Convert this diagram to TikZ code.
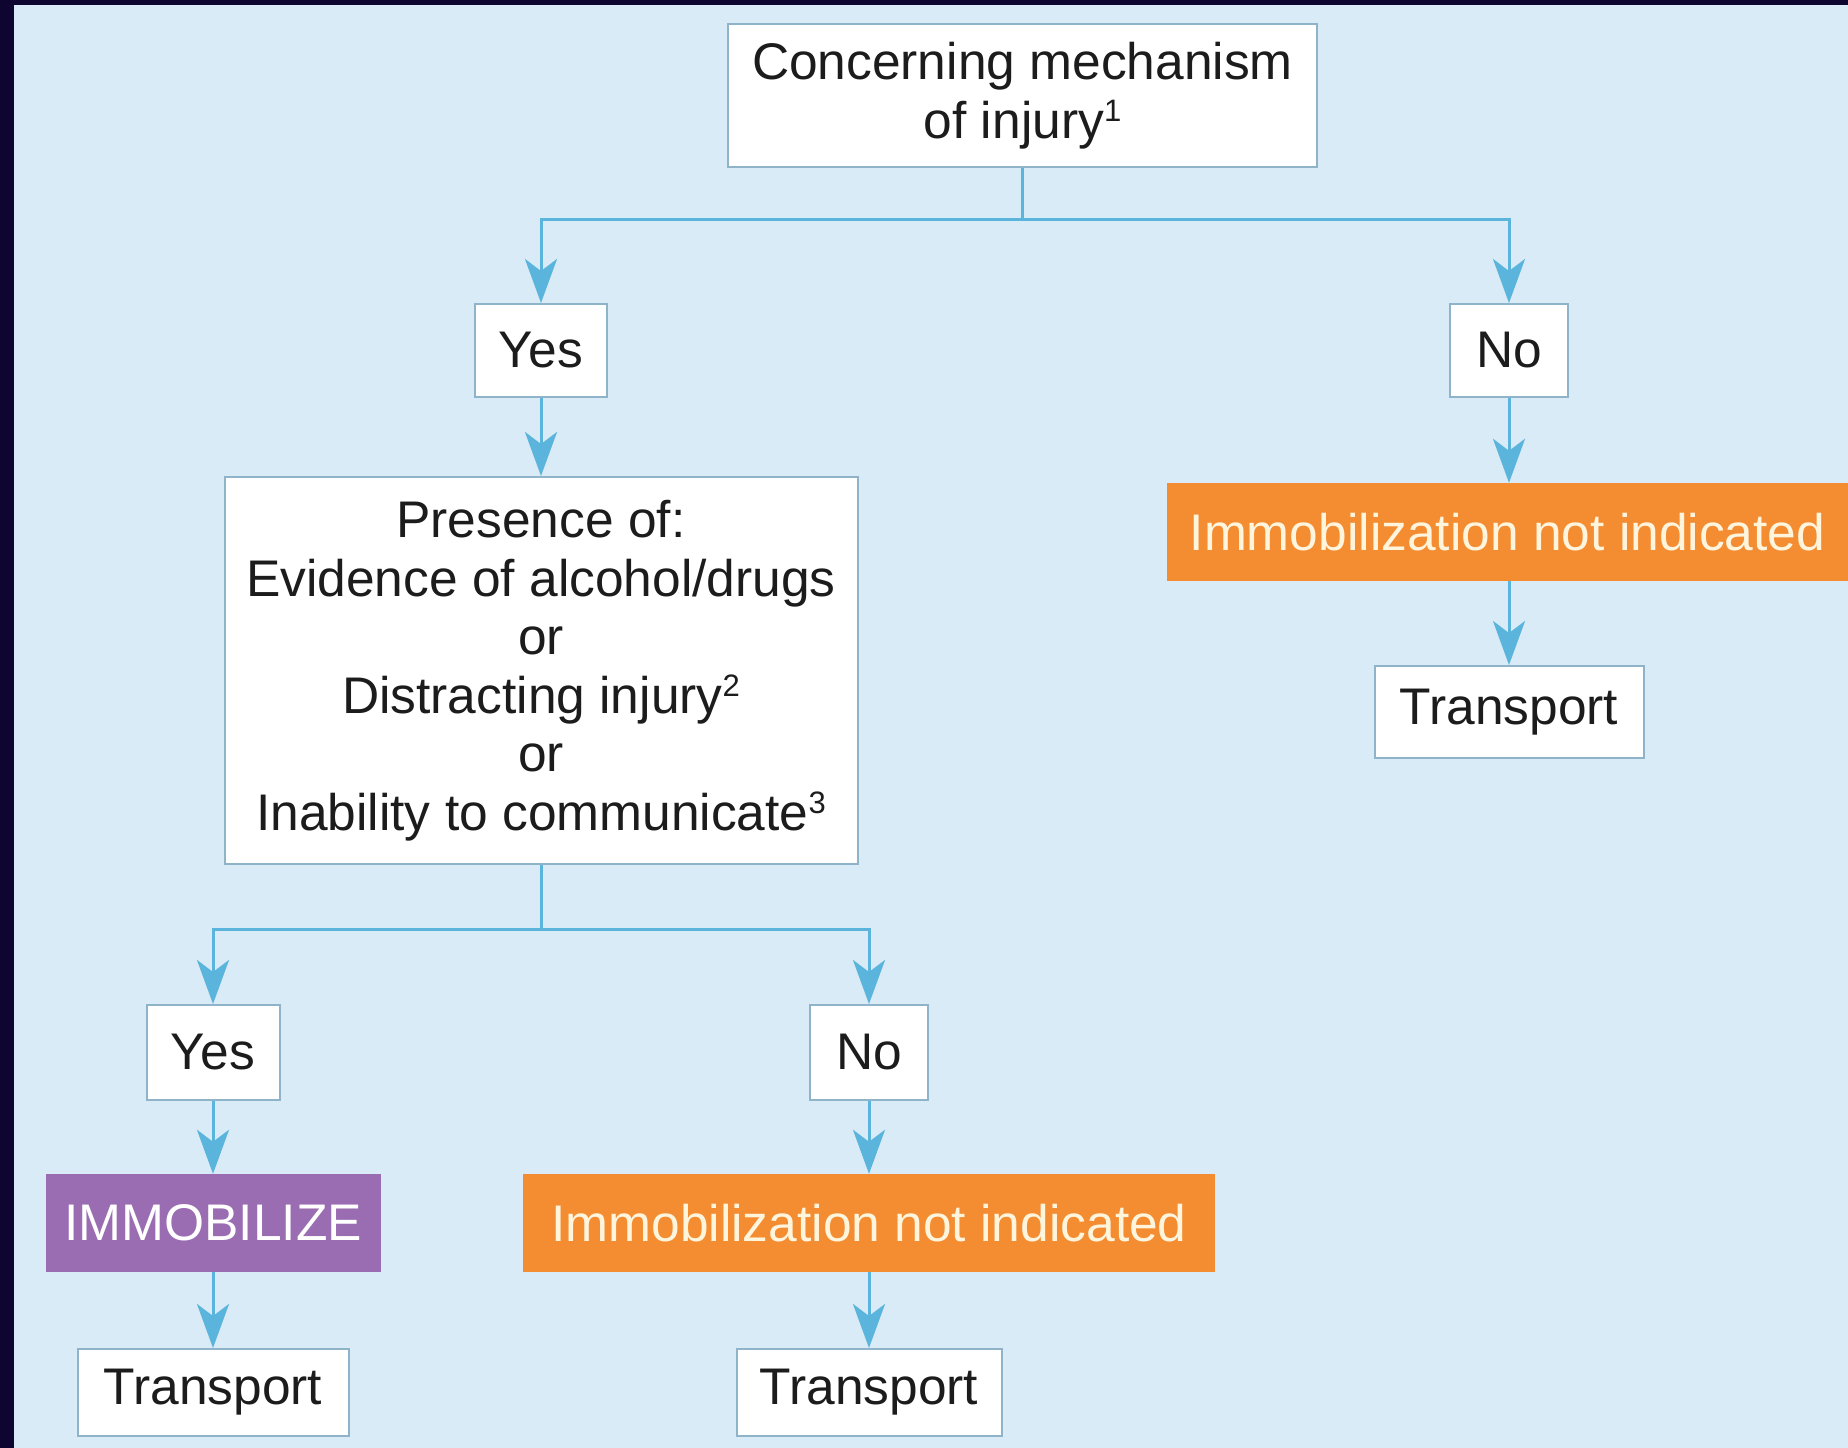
\documentclass[tikz,border=0pt]{standalone}
\usepackage{fontspec}
\setmainfont{Liberation Sans}
\usetikzlibrary{arrows.meta}
\definecolor{navy}{HTML}{0E0630}
\definecolor{bgblue}{HTML}{D8EBF6}
\definecolor{linkblue}{HTML}{5AB4DC}
\definecolor{edgegray}{HTML}{8FB3C8}
\definecolor{orangebox}{HTML}{F48D32}
\definecolor{purplebox}{HTML}{9A6CB1}
\definecolor{inktext}{HTML}{1C1C1C}
\definecolor{creamtext}{HTML}{FFF4DC}
\newcommand{\bigfont}{\fontsize{51.5}{58.5}\selectfont}
\newcommand{\supnum}[1]{\raisebox{17pt}{\fontsize{31}{31}\selectfont #1}}
\begin{document}
\begin{tikzpicture}[x=1pt,y=-1pt,
  wbox/.style={draw=edgegray,line width=2pt,fill=white,inner sep=0pt,align=center,font=\bigfont,text=inktext},
  obox/.style={fill=orangebox,inner sep=0pt,align=center,font=\bigfont,text=creamtext},
  pbox/.style={fill=purplebox,inner sep=0pt,align=center,font=\bigfont,text=white},
  link/.style={draw=linkblue,line width=3pt},
  arr/.style={link,-{Stealth[length=44pt,width=32pt,inset=12pt]}}]
\useasboundingbox (0,0) rectangle (1848,1448);
\fill[navy] (0,0) rectangle (1848,1448);
\fill[bgblue] (14,5) rectangle (1848,1448);

% top level
\node[wbox,minimum width=589pt,minimum height=143pt] (top) at (1022.5,95.5) {Concerning mechanism\\of injury\supnum{1}};
\node[wbox,minimum width=132pt,minimum height=93pt] (yes1) at (541,350.5) {Yes};
\node[wbox,minimum width=118pt,minimum height=93pt] (no1) at (1509,350.5) {No};

% right branch
\node[obox,minimum width=681pt,minimum height=98pt] (notind1) at (1507.5,532) {Immobilization not indicated};
\node[wbox,minimum width=269pt,minimum height=92pt] (trans1) at (1509,712) {Transport};

% presence box
\node[wbox,minimum width=633pt,minimum height=387pt] (pres) at (541,670.5) {Presence of:\\Evidence of alcohol/drugs\\or\\Distracting injury\supnum{2}\\or\\Inability to communicate\supnum{3}};

% lower level
\node[wbox,minimum width=133pt,minimum height=95pt] (yes2) at (213,1052.5) {Yes};
\node[wbox,minimum width=118pt,minimum height=95pt] (no2) at (869,1052.5) {No};
\node[pbox,minimum width=335pt,minimum height=98pt] (immob) at (213,1223) {IMMOBILIZE};
\node[obox,minimum width=692pt,minimum height=98pt] (notind2) at (869,1223) {Immobilization not indicated};
\node[wbox,minimum width=271pt,minimum height=87pt] (trans2) at (213,1392.5) {Transport};
\node[wbox,minimum width=265pt,minimum height=87pt] (trans3) at (869,1392.5) {Transport};

% connectors
\coordinate (j1) at (1022.5,219);
\coordinate (j2) at (541,929);
\draw[link] (top.south) -- (j1);
\draw[arr] (j1) -| (yes1.north);
\draw[arr] (j1) -| (no1.north);
\draw[arr] (yes1.south) -- (pres.north);
\draw[arr] (no1.south) -- (notind1.north -| no1.south);
\draw[arr] (notind1.south -| trans1.north) -- (trans1.north);
\draw[link] (pres.south) -- (j2);
\draw[arr] (j2) -| (yes2.north);
\draw[arr] (j2) -| (no2.north);
\draw[arr] (yes2.south) -- (immob.north);
\draw[arr] (no2.south) -- (notind2.north);
\draw[arr] (immob.south) -- (trans2.north);
\draw[arr] (notind2.south) -- (trans3.north);
\end{tikzpicture}
\end{document}
